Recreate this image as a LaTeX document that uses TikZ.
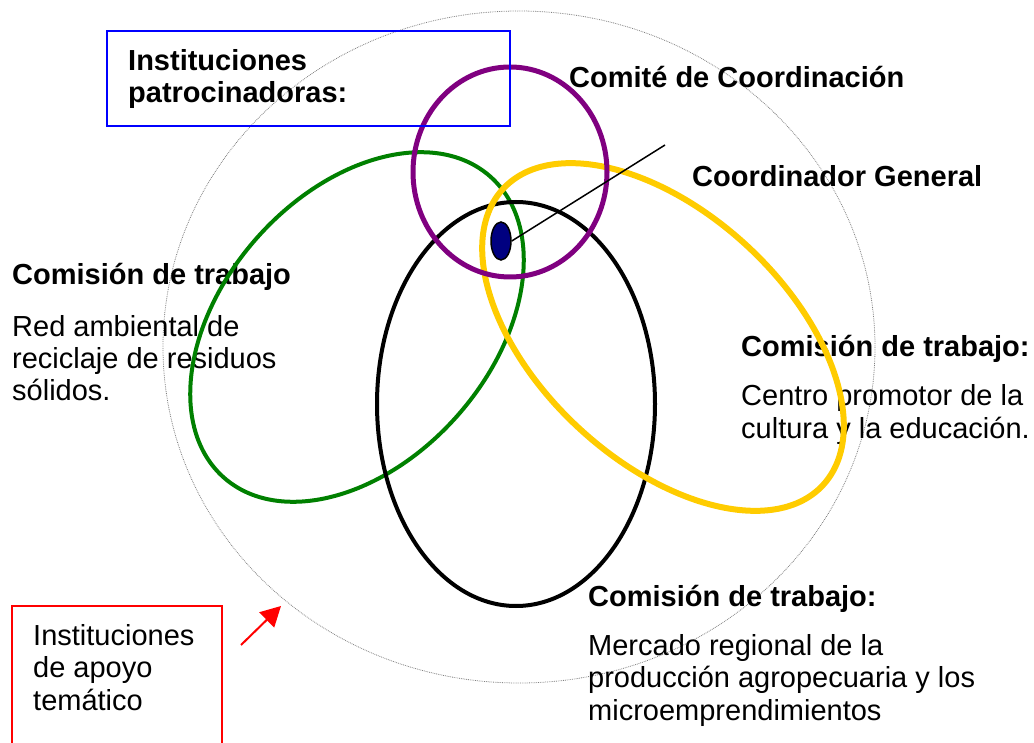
\documentclass[tikz,border=0pt]{standalone}
\usepackage{fontspec}
\setmainfont{Liberation Sans}
\usetikzlibrary{shapes.geometric,arrows.meta}
\definecolor{comite}{RGB}{128,0,128}
\definecolor{ambiental}{RGB}{0,128,0}
\definecolor{cultura}{RGB}{255,204,0}
\definecolor{coordinador}{RGB}{0,0,128}
\tikzset{
    plain text/.style={anchor=base west, align=left, inner sep=0pt, font=\fontsize{29}{32.5}\selectfont},
    bold text/.style={plain text, font=\fontsize{29}{32.5}\selectfont\bfseries},
}

\begin{document}
\begin{tikzpicture}[x=1pt, y=-1pt]
        \useasboundingbox (0,0) rectangle (1034,743);

        \draw[gray, densely dotted, line width=0.8] (519,347) ellipse [x radius=356, y radius=336];

        \node[bold text] (patrocinadoras) at (128,103) {Instituciones\\patrocinadoras:};
        \node[bold text] (comite) at (569,88) {Comité de Coordinación};
        \node[bold text] (general) at (692,187) {Coordinador General};
        \node[bold text] (comisionA) at (12,285) {Comisión de trabajo};
        \node[plain text] (reciclaje) at (12,401) {Red ambiental de\\reciclaje de residuos\\sólidos.};
        \node[bold text] (comisionB) at (741,357) {Comisión de trabajo:};
        \node[plain text] (centro) at (741,438) {Centro promotor de la\\cultura y la educación.};
        \node[bold text] (comisionC) at (588,606) {Comisión de trabajo:};
        \node[plain text] (mercado) at (588,720) {Mercado regional de la\\producción agropecuaria y los\\microemprendimientos};
        \node[plain text] (apoyo) at (33,710) {Instituciones\\de apoyo\\temático};

        \draw[ambiental, line width=4] [rotate around={48.5:(357,327)}] (357,327) ellipse [x radius=201, y radius=134];
        \draw[black, line width=4] (516,404) ellipse [x radius=139, y radius=202];
        \draw[cultura, line width=6] [rotate around={-42.8:(663,337)}] (663,337) ellipse [x radius=218, y radius=124];
        \draw[comite, line width=5] (510,172) ellipse [x radius=97, y radius=105];

        \node[ellipse, draw, line width=1.5, fill=coordinador, minimum width=20, minimum height=38, inner sep=0pt] (coord) at (501,241) {};
        \coordinate (coordtip) at (665,145);
        \draw[line width=1.5] (coord.east) -- (coordtip);

        \draw[blue, line width=2.5] (107,31) rectangle (510,126);
        \draw[red, line width=1.5] (12,606) rectangle (222,760);

        \coordinate (flecha) at (241,645);
        \coordinate (borde) at (281,606);
        \draw[red, line width=2, -{Triangle[length=20pt,width=21pt]}] (flecha) -- (borde);

    \end{tikzpicture}
\end{document}
